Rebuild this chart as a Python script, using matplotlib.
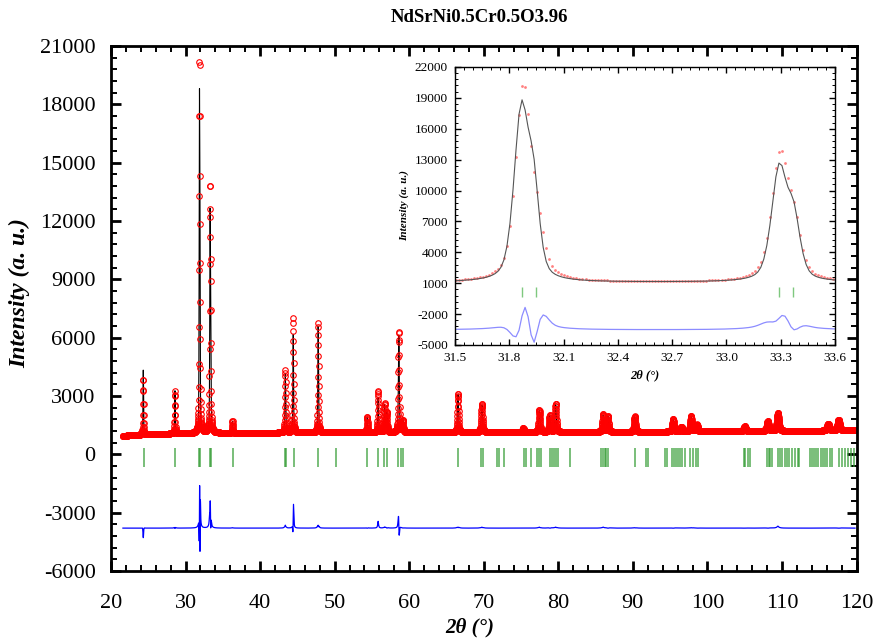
import numpy as np
import matplotlib.pyplot as plt
from matplotlib.ticker import MultipleLocator, FixedLocator

plt.rcParams['font.family'] = ['Liberation Serif', 'DejaVu Serif']
plt.rcParams['axes.unicode_minus'] = False

# Peaks: position (2theta), height above background
# and full width at half maximum, for the observed and the calculated profile
obs_pos = [24.33, 28.58, 31.876, 31.955, 33.295, 33.376, 36.30, 43.38, 44.45,
           47.79, 54.37, 55.83, 56.70, 57.00, 58.60, 59.15, 66.55, 69.75,
           75.30, 77.45, 78.85, 79.65, 86.00, 86.65, 90.24, 95.40, 96.50,
           97.80, 98.60, 105.00, 108.10, 109.45, 116.20, 117.60]
obs_height = [2900, 2200, 18600, 4200, 12100, 4300, 620, 3200, 5900,
              5650, 800, 2150, 1450, 1000, 5200, 600, 2000, 1450,
              200, 1150, 850, 1450, 900, 800, 800, 650, 250,
              800, 350, 250, 500, 950, 350, 550]
obs_fwhm = [0.09, 0.09, 0.10, 0.09, 0.11, 0.09, 0.10, 0.12, 0.11,
            0.11, 0.13, 0.13, 0.14, 0.14, 0.14, 0.14, 0.16, 0.20,
            0.20, 0.20, 0.20, 0.20, 0.22, 0.22, 0.22, 0.25, 0.25,
            0.25, 0.25, 0.30, 0.30, 0.30, 0.35, 0.35]

calc_pos = [24.33, 28.58, 31.866, 31.935, 33.291, 33.372, 36.30, 43.38, 44.44,
            47.79, 54.37, 55.83, 56.70, 57.00, 58.61, 59.15, 66.55, 69.75,
            75.30, 77.45, 78.85, 79.65, 86.00, 86.65, 90.24, 95.40, 96.50,
            97.80, 98.60, 105.00, 108.10, 109.45, 116.20, 117.60]
calc_height = [3400, 2200, 16400, 7800, 10800, 5600, 600, 3050, 5100,
               5500, 800, 1800, 1400, 1000, 5000, 600, 1950, 1400,
               200, 1100, 850, 1400, 850, 800, 780, 650, 250,
               780, 350, 250, 500, 850, 350, 550]
calc_fwhm = [0.09, 0.09, 0.095, 0.075, 0.10, 0.085, 0.10, 0.12, 0.11,
             0.11, 0.13, 0.13, 0.14, 0.14, 0.14, 0.14, 0.16, 0.20,
             0.20, 0.20, 0.20, 0.20, 0.22, 0.22, 0.22, 0.25, 0.25,
             0.25, 0.25, 0.30, 0.30, 0.30, 0.35, 0.35]

# background level
bg_pos = [21.6, 26.0, 35.0, 60.0, 90.0, 119.8]
bg_int = [950, 1050, 1100, 1130, 1150, 1220]

# Bragg reflection positions (green ticks)
hkl_pos = [24.42, 28.58, 31.87, 31.95, 33.29, 33.37, 36.40, 43.32, 43.46, 44.53,
           47.79, 50.14, 54.38, 55.85, 56.62, 57.00, 58.55, 58.96, 59.20,
           66.55, 69.69, 69.91, 71.84, 72.05, 72.68, 75.36, 75.63, 76.30,
           77.15, 77.41, 77.73, 78.85, 79.12, 79.38, 79.65, 79.96, 81.53,
           85.77, 85.99, 86.20, 86.44, 86.70, 90.24, 91.72, 92.02, 94.26, 94.57,
           95.30, 95.55, 95.80, 96.05, 96.30, 96.60, 96.95, 97.70, 98.06,
           98.51, 98.73, 104.90, 105.10, 105.40, 105.66, 107.98, 108.20,
           108.44, 108.65, 109.45, 109.75, 110.05, 110.35, 110.65, 110.95,
           111.30, 111.70, 112.10, 112.30, 113.70, 114.00, 114.30, 114.60,
           114.90, 115.20, 115.50, 115.80, 116.10, 116.40, 116.75, 117.70,
           118.10, 118.50, 118.90, 119.30, 119.70]

STEP = 0.0167
DIFF_OFFSET = -3800
INSET_DIFF_OFFSET = -3540


def pseudo_voigt(x, pos, height, fwhm, eta):
    y = np.zeros_like(x)
    for p, h, w in zip(pos, height, fwhm):
        d = (x - p) / (w / 2)
        y += h * (eta / (1 + d ** 2) + (1 - eta) * np.exp(-np.log(2) * d ** 2))
    return y


two_theta = np.arange(21.6, 119.8, STEP)
background = np.interp(two_theta, bg_pos, bg_int)
y_obs = background + pseudo_voigt(two_theta, obs_pos, obs_height, obs_fwhm, 0.55)
y_calc = background + pseudo_voigt(two_theta, calc_pos, calc_height, calc_fwhm, 0.45)
y_diff = y_obs - y_calc


def style_axes(ax, lw, major_len, minor_len, size, pad_x, pad_y):
    for s in ax.spines.values():
        s.set_linewidth(lw)
    ax.tick_params(which='both', direction='in', top=True, right=True)
    ax.tick_params(which='major', length=major_len, width=lw, labelsize=size)
    ax.tick_params(which='minor', length=minor_len, width=lw * 0.7)
    ax.tick_params(axis='x', which='major', pad=pad_x)
    ax.tick_params(axis='y', which='major', pad=pad_y)


fig = plt.figure(figsize=(8.74, 6.40), dpi=100)
ax = fig.add_axes([0.127, 0.108, 0.853, 0.820])

ax.plot(two_theta, y_calc, color='black', lw=0.8)
ax.plot(two_theta, y_obs, 'o', mfc='none', mec='red', ms=4.0, mew=0.8)
ax.vlines(hkl_pos, -650, 300, color='#2e9a2e', lw=1.2, alpha=0.75)
ax.plot(two_theta, y_diff + DIFF_OFFSET, color='blue', lw=0.9)

ax.set_xlim(20, 120)
ax.set_ylim(-6000, 21000)
ax.xaxis.set_major_locator(MultipleLocator(10))
ax.xaxis.set_minor_locator(MultipleLocator(2))
ax.yaxis.set_major_locator(MultipleLocator(3000))
ax.yaxis.set_minor_locator(MultipleLocator(600))
style_axes(ax, 2.0, 7, 4, 16, 17, 11)
ax.set_xlabel('2θ (°)', fontsize=15, fontweight='bold', fontstyle='italic')
ax.xaxis.set_label_coords(0.481, -0.088)
ax.set_ylabel('Intensity (a. u.)', fontsize=17, fontweight='bold', fontstyle='italic')
ax.yaxis.set_label_coords(-0.108, 0.53)

fig.text(0.549, 0.972, 'NdSrNi0.5Cr0.5O3.96', ha='center', va='center',
         fontsize=13.5, fontweight='bold')

# zoomed inset on the two strongest reflections
ins = fig.add_axes([0.5206, 0.461, 0.4348, 0.4344])
ins.plot(two_theta, y_obs, 'o', ms=2.0, color='#ff8080', mec='none')
ins.plot(two_theta, y_calc, color='#555555', lw=0.8)
ins.vlines(hkl_pos, -360, 610, color='#7fc87f', lw=1.0)
ins.plot(two_theta, y_diff + INSET_DIFF_OFFSET, color='#8c8cff', lw=0.9)

ins.set_xlim(31.5, 33.6)
ins.set_ylim(-5000, 22000)
ins.set_xticks(np.arange(31.5, 33.61, 0.3))
ins.xaxis.set_minor_locator(MultipleLocator(0.05))
ins.yaxis.set_major_locator(FixedLocator(np.arange(-5000, 22001, 3000)))
ins.yaxis.set_minor_locator(FixedLocator(np.arange(-5000, 22001, 600)))
ins.xaxis.set_major_formatter(plt.FormatStrFormatter('%.1f'))
style_axes(ins, 1.0, 4, 2, 9.5, 5, 5)
ins.set_xlabel('2θ (°)', fontsize=9, fontweight='bold', fontstyle='italic', labelpad=4)
ins.set_ylabel('Intensity (a. u.)', fontsize=8, fontweight='bold', fontstyle='italic', labelpad=4)

fig.savefig('out.png', dpi=100)
